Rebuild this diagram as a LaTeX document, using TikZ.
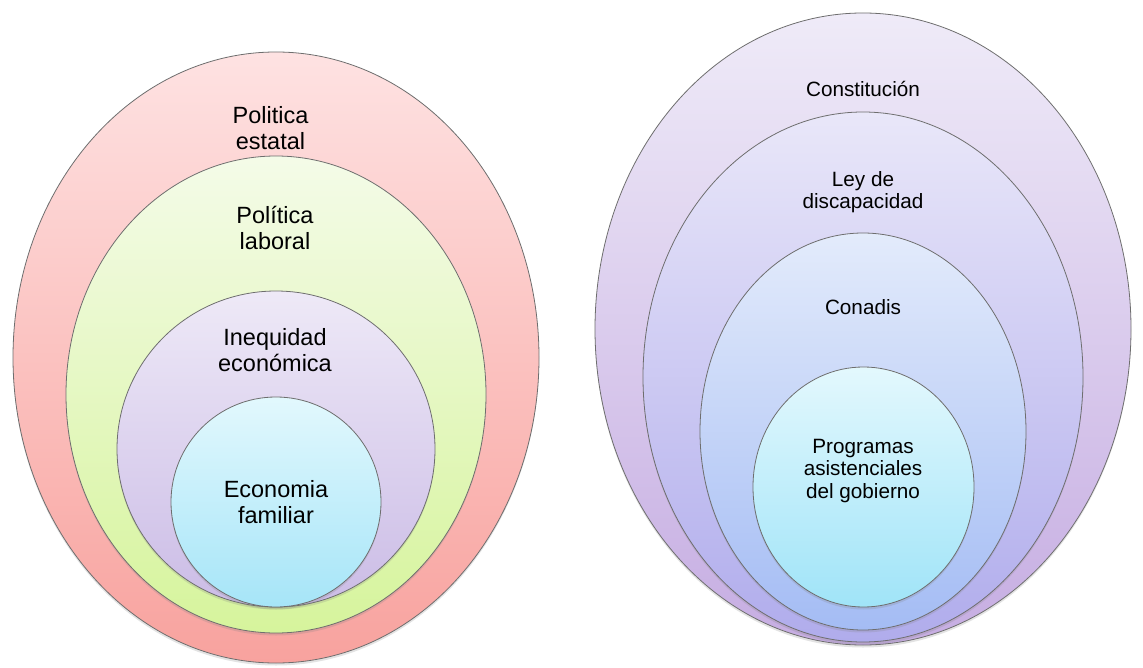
\documentclass[tikz,border=0pt]{standalone}
\usepackage{fontspec}
\setmainfont{Liberation Sans}
\usetikzlibrary{shapes.geometric,shadows}
\definecolor{edgegray}{HTML}{6E6E6E}
\definecolor{redtop}{HTML}{FEE2E2}
\definecolor{redbot}{HTML}{F8A29E}
\definecolor{grntop}{HTML}{F4FBE8}
\definecolor{grnbot}{HTML}{D6F49C}
\definecolor{purtop}{HTML}{EEE9F7}
\definecolor{purbot}{HTML}{CBBCE6}
\definecolor{blutop}{HTML}{E2F8FD}
\definecolor{blubot}{HTML}{A6E5F8}
\definecolor{r1top}{HTML}{EFEBF8}
\definecolor{r1bot}{HTML}{C6ADE2}
\definecolor{r2top}{HTML}{E9E7F9}
\definecolor{r2bot}{HTML}{B0ACEC}
\definecolor{r3top}{HTML}{E3EBFB}
\definecolor{r3bot}{HTML}{A4BCF4}
\definecolor{r4top}{HTML}{E3F8FD}
\definecolor{r4bot}{HTML}{A0E4F8}
\begin{document}
\begin{tikzpicture}[x=1pt,y=-1pt,
  ring/.style={ellipse, inner sep=0pt, draw=edgegray, line width=0.8pt,
    drop shadow={shadow xshift=0pt, shadow yshift=-2.5pt, opacity=0.22}},
  lbl/.style={align=center, inner sep=0pt, font=\fontsize{23.5}{25.5}\selectfont},
  rlbl/.style={align=center, inner sep=0pt, font=\fontsize{20.7}{22.5}\selectfont}]
\useasboundingbox[fill=white] (0,0) rectangle (1143,668);

% left diagram
\node[ring, minimum width=526pt, minimum height=611pt, top color=redtop, bottom color=redbot] (pe) at (276,357.5) {};
\node[ring, minimum width=420pt, minimum height=477pt, top color=grntop, bottom color=grnbot] (pl) at (276,394.5) {};
\node[ring, minimum width=318pt, minimum height=316pt, top color=purtop, bottom color=purbot] (ie) at (276,449) {};
\node[ring, minimum width=210pt, minimum height=210pt, top color=blutop, bottom color=blubot] (ef) at (276,502) {};

\node[lbl] (tpe) at (270.5,128) {Politica\\estatal};
\node[lbl] (tpl) at (275,228) {Política\\laboral};
\node[lbl] (tie) at (275,350) {Inequidad\\económica};
\node[lbl] (tef) at (276,502) {Economia\\familiar};

% right diagram
\node[ring, minimum width=536pt, minimum height=632pt, top color=r1top, bottom color=r1bot] (co) at (863,329) {};
\node[ring, minimum width=440pt, minimum height=530pt, top color=r2top, bottom color=r2bot] (ld) at (863,377) {};
\node[ring, minimum width=326pt, minimum height=397pt, top color=r3top, bottom color=r3bot] (cn) at (863,431.5) {};
\node[ring, minimum width=221pt, minimum height=240pt, top color=r4top, bottom color=r4bot] (pa) at (863.5,487) {};

\node[rlbl] (tco) at (863,89) {Constitución};
\node[rlbl] (tld) at (863,192) {Ley de\\discapacidad};
\node[rlbl] (tcn) at (863,307) {Conadis};
\node[rlbl] (tpa) at (863,471) {Programas\\asistenciales\\del gobierno};
\end{tikzpicture}
\end{document}
